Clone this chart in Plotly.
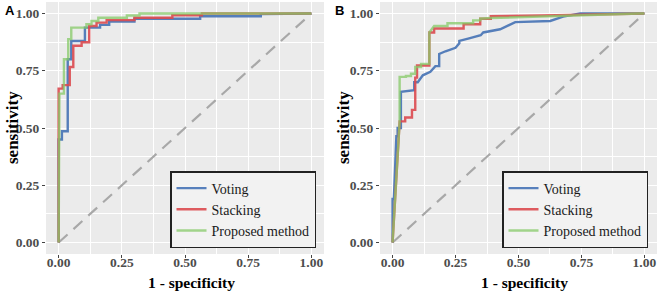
import plotly.graph_objects as go

# ---------------- data ----------------
series_names = ["Voting", "Stacking", "Proposed method"]

# Panel A
a_voting_fpr = [0, 0, 0.013, 0.013, 0.036, 0.036, 0.05, 0.05, 0.104, 0.104, 0.164, 0.164, 0.2, 0.2, 0.3, 0.3, 0.56, 0.56, 0.8, 0.8, 1.0]
a_voting_tpr = [0, 0.45, 0.45, 0.486, 0.486, 0.80, 0.80, 0.88, 0.88, 0.938, 0.938, 0.95, 0.95, 0.965, 0.965, 0.977, 0.977, 0.988, 0.988, 0.997, 1.0]

a_stack_fpr = [0, 0, 0.016, 0.016, 0.044, 0.044, 0.058, 0.058, 0.091, 0.091, 0.121, 0.121, 0.15, 0.15, 0.19, 0.19, 0.30, 0.30, 0.45, 0.45, 0.567, 0.567, 1.0]
a_stack_tpr = [0, 0.672, 0.672, 0.687, 0.687, 0.766, 0.766, 0.859, 0.859, 0.874, 0.874, 0.945, 0.945, 0.96, 0.96, 0.971, 0.971, 0.981, 0.981, 0.992, 0.992, 1.0, 1.0]

a_prop_fpr = [0, 0.003, 0.021, 0.021, 0.038, 0.038, 0.05, 0.05, 0.11, 0.11, 0.13, 0.13, 0.157, 0.157, 0.27, 0.27, 0.32, 0.32, 1.0]
a_prop_tpr = [0, 0.65, 0.65, 0.80, 0.80, 0.888, 0.888, 0.938, 0.938, 0.953, 0.953, 0.967, 0.967, 0.981, 0.981, 0.991, 0.991, 1.0, 1.0]

# Panel B
b_voting_fpr = [0, 0, 0.005, 0.015, 0.02, 0.02, 0.033, 0.033, 0.086, 0.086, 0.10, 0.12, 0.15, 0.17, 0.185, 0.185, 0.21, 0.25, 0.265, 0.265, 0.30, 0.35, 0.36, 0.427, 0.487, 0.626, 0.677, 0.745, 1.0]
b_voting_tpr = [0, 0.19, 0.19, 0.464, 0.464, 0.50, 0.50, 0.658, 0.665, 0.70, 0.70, 0.73, 0.745, 0.77, 0.77, 0.823, 0.835, 0.85, 0.87, 0.88, 0.89, 0.905, 0.917, 0.931, 0.962, 0.967, 0.986, 1.0, 1.0]

b_stack_fpr = [0, 0.028, 0.05, 0.05, 0.077, 0.077, 0.09, 0.09, 0.097, 0.097, 0.146, 0.146, 0.165, 0.165, 0.282, 0.282, 0.348, 0.348, 0.39, 0.39, 0.6, 0.8, 0.98, 1.0]
b_stack_tpr = [0, 0.529, 0.529, 0.546, 0.546, 0.579, 0.579, 0.72, 0.72, 0.773, 0.773, 0.917, 0.917, 0.934, 0.934, 0.953, 0.953, 0.977, 0.977, 0.988, 0.991, 0.995, 1.0, 1.0]

b_prop_fpr = [0, 0.028, 0.028, 0.053, 0.053, 0.073, 0.073, 0.09, 0.09, 0.113, 0.113, 0.146, 0.146, 0.165, 0.218, 0.218, 0.32, 0.32, 0.348, 0.348, 0.39, 0.6, 0.8, 0.98, 1.0]
b_prop_tpr = [0, 0.529, 0.723, 0.723, 0.727, 0.727, 0.737, 0.737, 0.766, 0.766, 0.78, 0.78, 0.917, 0.945, 0.945, 0.957, 0.957, 0.97, 0.97, 0.977, 0.98, 0.988, 0.993, 1.0, 1.0]

diag = [0, 1]
tick_vals = [0, 0.25, 0.5, 0.75, 1.0]
tick_text = ["0.00", "0.25", "0.50", "0.75", "1.00"]
panel_labels = ["A", "B"]
x_title = "1 - specificity"
y_title = "sensitivity"

colors = ["#4E79B8", "#DC4A4F", "#86CA68"]
opac = [0.95, 0.9, 0.75]

# ---------------- figure ----------------
fig = go.Figure()
serif = "Liberation Serif, Times New Roman, serif"

panels = [
    ("x", "y", "legend", [(a_voting_fpr, a_voting_tpr), (a_stack_fpr, a_stack_tpr), (a_prop_fpr, a_prop_tpr)]),
    ("x2", "y2", "legend2", [(b_voting_fpr, b_voting_tpr), (b_stack_fpr, b_stack_tpr), (b_prop_fpr, b_prop_tpr)]),
]

for xa, ya, lg, curves in panels:
    fig.add_trace(go.Scatter(x=diag, y=diag, mode="lines", xaxis=xa, yaxis=ya,
                             line=dict(color="#A8A8A8", width=2.2, dash="12px,8px"),
                             showlegend=False, hoverinfo="skip"))
    for i, (fx, ty) in enumerate(curves):
        fig.add_trace(go.Scatter(x=fx, y=ty, mode="lines", xaxis=xa, yaxis=ya,
                                 name=series_names[i], legend=lg,
                                 line=dict(color=colors[i], width=2.4),
                                 opacity=opac[i]))

W, H = 659, 292
top_px, bot_px = 2, 254
ydom = [1 - bot_px / H, 1 - top_px / H]
xdomA = [46 / W, 324 / W]
xdomB = [380 / W, 657 / W]

def axis_common(is_x):
    d = dict(range=[-0.05, 1.05], tickvals=tick_vals, ticktext=tick_text,
             showgrid=True, gridcolor="white", gridwidth=1.2,
             zeroline=False, ticks="outside", ticklen=3, tickwidth=1,
             tickcolor="#444444",
             tickfont=dict(family=serif, size=13.5, color="#4D4D4D", weight="bold"),
             minor=dict(dtick=0.125, tick0=0.125, showgrid=True, gridcolor="white",
                        gridwidth=0.5, ticks=""),
             showline=False, fixedrange=True)
    if is_x:
        d["ticklabelstandoff"] = -7
    return d

legend_common = dict(yanchor="top", xanchor="left",
                     bgcolor="#F2F2F2", bordercolor="#222222", borderwidth=1.5,
                     font=dict(family=serif, size=14, color="#1A1A1A"),
                     itemwidth=30, tracegroupgap=0)

fig.update_layout(
    width=W, height=H,
    margin=dict(l=0, r=0, t=0, b=0),
    paper_bgcolor="white",
    plot_bgcolor="#EBEBEB",
    xaxis=dict(domain=xdomA, anchor="y", **axis_common(True)),
    yaxis=dict(domain=ydom, anchor="x", **axis_common(False)),
    xaxis2=dict(domain=xdomB, anchor="y2", **axis_common(True)),
    yaxis2=dict(domain=ydom, anchor="x2", **axis_common(False)),
    legend=dict(x=170 / W, y=1 - 171 / H, **legend_common),
    legend2=dict(x=502 / W, y=1 - 171 / H, **legend_common),
    showlegend=True,
)

title_font = dict(family=serif, size=15.5, color="black", weight="bold")
for lbl, xp, xdom, ytx in zip(panel_labels, [3 / W, 333 / W], [xdomA, xdomB], [12 / W, 343 / W]):
    fig.add_annotation(text=lbl, x=xp, y=1 - 10 / H, xref="paper", yref="paper",
                       xanchor="left", yanchor="middle", showarrow=False,
                       font=dict(family="Liberation Sans", size=13, color="black", weight="bold"))
    fig.add_annotation(text=x_title, x=(xdom[0] + xdom[1]) / 2 + 6 / W, y=0,
                       xref="paper", yref="paper", xanchor="center", yanchor="bottom",
                       borderpad=0, showarrow=False, font=title_font)
    fig.add_annotation(text=y_title, x=ytx, y=(ydom[0] + ydom[1]) / 2,
                       xref="paper", yref="paper", xanchor="center", yanchor="middle",
                       textangle=-90, showarrow=False, font=dict(family=serif, size=17,
                                                                  color="black", weight="bold"))

fig.write_html("out.html")
